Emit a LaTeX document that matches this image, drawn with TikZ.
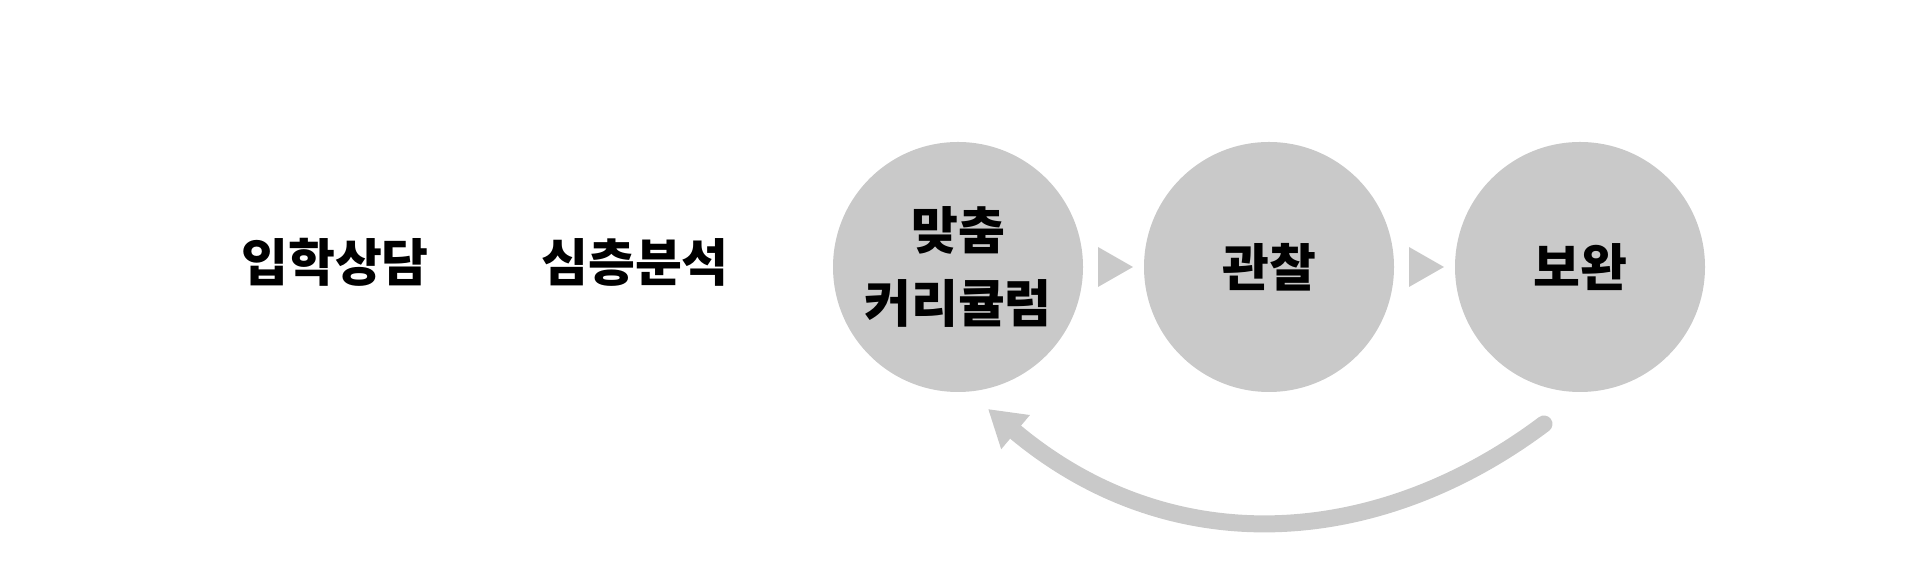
\documentclass[tikz,border=0pt]{standalone}
\usepackage{fontspec}
\setmainfont{Noto Sans CJK KR}
\usetikzlibrary{arrows.meta,calc}
\definecolor{stagegray}{RGB}{201,201,201}

\begin{document}
\begin{tikzpicture}[
    stage/.style={
        circle, fill=stagegray, minimum size=2.5cm, inner sep=0pt,
        align=center, font=\fontsize{14.5}{20.5}\selectfont\bfseries
    },
    plain/.style={font=\fontsize{14.5}{20.5}\selectfont\bfseries, inner sep=0pt},
    back/.style={draw=stagegray, line width=0.17cm, line cap=round,
        -{Triangle[length=0.36cm, width=0.42cm]}}
]
\useasboundingbox (0,0) rectangle (19.19,5.72);

% Stages
\node[plain] (S1) at (3.35, 3.10)  {입학상담};
\node[plain] (S2) at (6.35, 3.10)  {심층분석};
\node[stage] (C1) at (9.58, 3.05)  {맞춤\\커리큘럼};
\node[stage] (C2) at (12.69, 3.05) {관찰};
\node[stage] (C3) at (15.80, 3.05) {보완};

% Chevrons between circles
\foreach \a/\b in {C1/C2, C2/C3} {
    \fill[stagegray] ($(\a)!0.5!(\b)+(-0.155,0.2)$) -- ++(0.35,-0.2) -- ++(-0.35,-0.2) -- cycle;
}

% Feedback loop
\coordinate (R) at ($(C3)+(-0.36,-1.57)$);
\coordinate (L) at ($(C1)+(0.30,-1.42)$);
\draw[back] (R) .. controls +(-1.655,-1.241) and +(1.841,-1.546) .. (L);

\end{tikzpicture}
\end{document}
